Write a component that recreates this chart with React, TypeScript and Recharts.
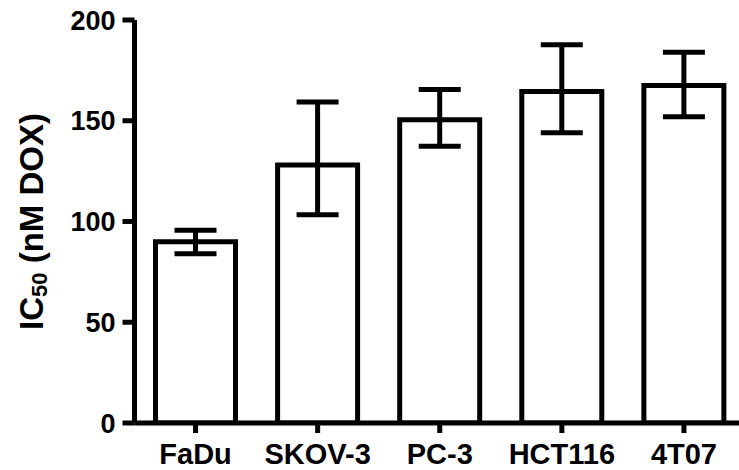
import React from "react";
import { BarChart, Bar, XAxis, YAxis, ErrorBar } from "recharts";

const categories = ["FaDu", "SKOV-3", "PC-3", "HCT116", "4T07"];
const ic50Values = [90, 128, 150.5, 164.5, 167.5];
const errorDown = [6, 24.6, 13.2, 20.5, 15.5];
const errorUp = [5.6, 31.3, 15, 23.2, 16.5];
const yTicks = [0, 50, 100, 150, 200];

const data = categories.map((name, i) => ({
  name,
  value: ic50Values[i],
  err: [errorDown[i], errorUp[i]],
}));

const FONT = "'Liberation Sans', Arial, sans-serif";

const YLabel = (props: any) => {
  const vb = props.viewBox || {};
  const cx = 31;
  const cy = vb.y + vb.height / 2;
  return (
    <text
      x={cx}
      y={cy}
      transform={`rotate(-90, ${cx}, ${cy})`}
      textAnchor="middle"
      dominantBaseline="central"
      fontFamily={FONT}
      fontWeight="bold"
      fontSize={33}
      fill="#000"
    >
      IC
      <tspan fontSize={22} dy={8}>50</tspan>
      <tspan dy={-8}>{"\u00a0(nM DOX)"}</tspan>
    </text>
  );
};

export default function App() {
  return (
    <div style={{ position: "absolute", left: 0, top: 0, width: 739, height: 470, overflow: "hidden", background: "#fff" }}>
      <BarChart
        width={745}
        height={470}
        data={data}
        margin={{ top: 20, right: 0, left: 0, bottom: 0 }}
        barCategoryGap={0}
      >
        <XAxis
          dataKey="name"
          height={47}
          axisLine={{ stroke: "#000", strokeWidth: 5 }}
          tickLine={{ stroke: "#000", strokeWidth: 5 }}
          tickSize={10}
          tickMargin={10}
          interval={0}
          tick={{ fill: "#000", fontFamily: FONT, fontWeight: "bold", fontSize: 29 }}
        />
        <YAxis
          width={134.5}
          domain={[0, 200]}
          ticks={yTicks}
          allowDataOverflow
          axisLine={{ stroke: "#000", strokeWidth: 5 }}
          tickLine={{ stroke: "#000", strokeWidth: 5 }}
          tickSize={12}
          tickMargin={7}
          tick={{ fill: "#000", fontFamily: FONT, fontWeight: "bold", fontSize: 27 }}
          label={<YLabel />}
        />
        <Bar
          dataKey="value"
          barSize={80}
          fill="#fff"
          stroke="#000"
          strokeWidth={5}
          isAnimationActive={false}
        >
          <ErrorBar dataKey="err" width={21} stroke="#000" strokeWidth={5} direction="y" />
        </Bar>
      </BarChart>
    </div>
  );
}
